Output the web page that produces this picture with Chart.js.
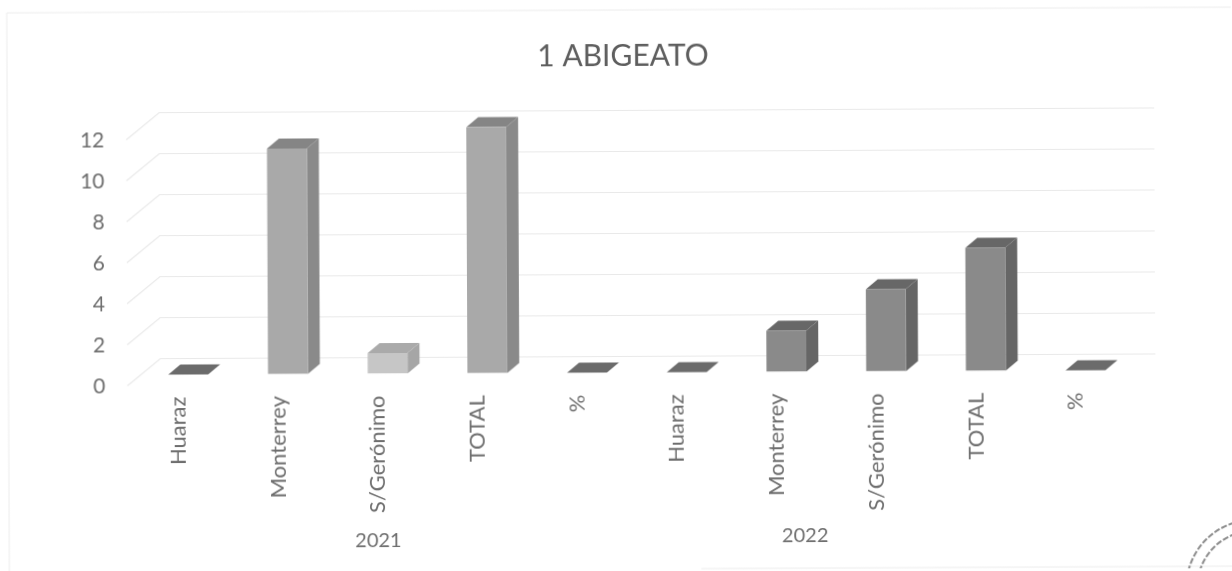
<!DOCTYPE html>
<html>
<head>
<meta charset="utf-8">
<title>1 ABIGEATO</title>
<script src="https://cdn.jsdelivr.net/npm/chart.js@4"></script>
<style>
  html, body { margin: 0; background: #fff; overflow: hidden; }
  /* the scan sits slightly crooked */
  #chart { display: block; transform: rotate(-0.27deg); filter: blur(0.4px); }
</style>
</head>
<body>
<canvas id="chart" width="1232" height="571"></canvas>
<script>
const categories = ["Huaraz", "Monterrey", "S/Gerónimo", "TOTAL", "%"];
const values2021 = [0, 11, 1, 12, 0];
const values2022 = [0, 2, 4, 6, 0];
const years = ["2021", "2022"];
const yTicks = [0, 2, 4, 6, 8, 10, 12];

const depthX = 12;
const depthY = 10;
const textColor = "#6e6e6e";
const fontFamily = "Lato, 'Noto Sans', sans-serif";

function shades(i, value) {
  if (value === 0) return { front: "#666", side: "#666", top: "#6b6b6b" };
  if (i === 2) return { front: "#c6c6c6", side: "#a6a6a6", top: "#aaaaaa" };
  if (i < 5) return { front: "#a9a9a9", side: "#8a8a8a", top: "#858585" };
  return { front: "#8a8a8a", side: "#666666", top: "#676767" };
}

function poly(ctx, pts, color) {
  ctx.fillStyle = color;
  ctx.beginPath();
  pts.forEach((p, i) => (i ? ctx.lineTo(p[0], p[1]) : ctx.moveTo(p[0], p[1])));
  ctx.closePath();
  ctx.fill();
}

// side walls and back wall grid, Chart.js has no 3d bars
const walls = {
  id: "walls",
  beforeDatasetsDraw(chart) {
    const ctx = chart.ctx;
    const y = chart.scales.y;
    const left = chart.chartArea.left;
    const right = chart.chartArea.right;
    ctx.save();
    ctx.strokeStyle = "#e9e9e9";
    ctx.lineWidth = 1.2;
    yTicks.forEach((t) => {
      const py = y.getPixelForValue(t);
      ctx.beginPath();
      ctx.moveTo(left - 11, py + 11);
      ctx.lineTo(left + 22, py - 16);
      ctx.lineTo(right + 20, py - 16);
      ctx.stroke();
    });
    ctx.restore();
  },
};

const bars3d = {
  id: "bars3d",
  beforeDatasetDraw(chart) {
    const ctx = chart.ctx;
    const data = chart.data.datasets[0].data;
    chart.getDatasetMeta(0).data.forEach((bar, i) => {
      const p = bar.getProps(["x", "y", "base", "width"], true);
      const l = p.x - p.width / 2;
      const r = p.x + p.width / 2;
      const c = shades(i, data[i]);
      poly(ctx, [[r, p.y], [r + depthX, p.y - depthY], [r + depthX, p.base - depthY], [r, p.base]], c.side);
      poly(ctx, [[l, p.y], [l + depthX, p.y - depthY], [r + depthX, p.y - depthY], [r, p.y]], c.top);
    });
  },
};

// year labels under the groups, chart frame and the stamp in the corner of the scan
const extras = {
  id: "extras",
  afterDraw(chart) {
    const ctx = chart.ctx;
    const x = chart.scales.x;
    ctx.save();
    ctx.fillStyle = textColor;
    ctx.font = "20px " + fontFamily;
    ctx.textAlign = "center";
    ctx.textBaseline = "middle";
    ctx.fillText(years[0], x.getPixelForTick(2) - 10, 540);
    ctx.fillText(years[1], x.getPixelForTick(6) + 18, 537);

    ctx.strokeStyle = "#ececec";
    ctx.lineWidth = 1;
    ctx.beginPath();
    ctx.moveTo(8, 571);
    ctx.lineTo(8, 10);
    ctx.lineTo(1232, 10);
    ctx.moveTo(700, 569);
    ctx.lineTo(1232, 569);
    ctx.stroke();

    ctx.strokeStyle = "#8c8c8c";
    ctx.lineWidth = 2;
    ctx.setLineDash([6, 2]);
    [67, 56].forEach((r) => {
      ctx.beginPath();
      ctx.arc(1252, 590, r, Math.PI, Math.PI * 1.6);
      ctx.stroke();
    });
    ctx.restore();
  },
};

new Chart(document.getElementById("chart"), {
  type: "bar",
  data: {
    labels: categories.concat(categories),
    datasets: [
      {
        data: values2021.concat(values2022),
        backgroundColor: (c) => shades(c.dataIndex, c.raw).front,
        categoryPercentage: 1,
        barPercentage: 0.4,
      },
    ],
  },
  plugins: [walls, bars3d, extras],
  options: {
    responsive: false,
    animation: false,
    layout: { padding: { left: 70, right: 54, top: 38, bottom: 0 } },
    plugins: {
      legend: { display: false },
      tooltip: { enabled: false },
      title: {
        display: true,
        text: "1 ABIGEATO",
        color: "#5e5e5e",
        font: { family: fontFamily, size: 30, weight: "normal" },
        padding: { top: 0, bottom: 52.5 },
      },
    },
    scales: {
      x: {
        grid: { display: false },
        border: { display: false },
        afterFit: (s) => { s.height = 198.5; },
        ticks: {
          autoSkip: false,
          maxRotation: 90,
          minRotation: 90,
          labelOffset: -10,
          padding: 14,
          color: textColor,
          font: { family: fontFamily, size: 22 },
        },
      },
      y: {
        min: 0,
        max: 12,
        grid: { display: false },
        border: { display: false },
        afterFit: (s) => { s.width = 68; },
        ticks: {
          stepSize: 2,
          padding: 25,
          labelOffset: 12,
          color: textColor,
          font: { family: fontFamily, size: 21 },
        },
      },
      // empty axis, keeps the plot clear of the right edge
      spacer: {
        position: "right",
        grid: { display: false },
        border: { display: false },
        ticks: { display: false },
        afterFit: (s) => { s.width = 43; },
      },
    },
  },
});
</script>
</body>
</html>
